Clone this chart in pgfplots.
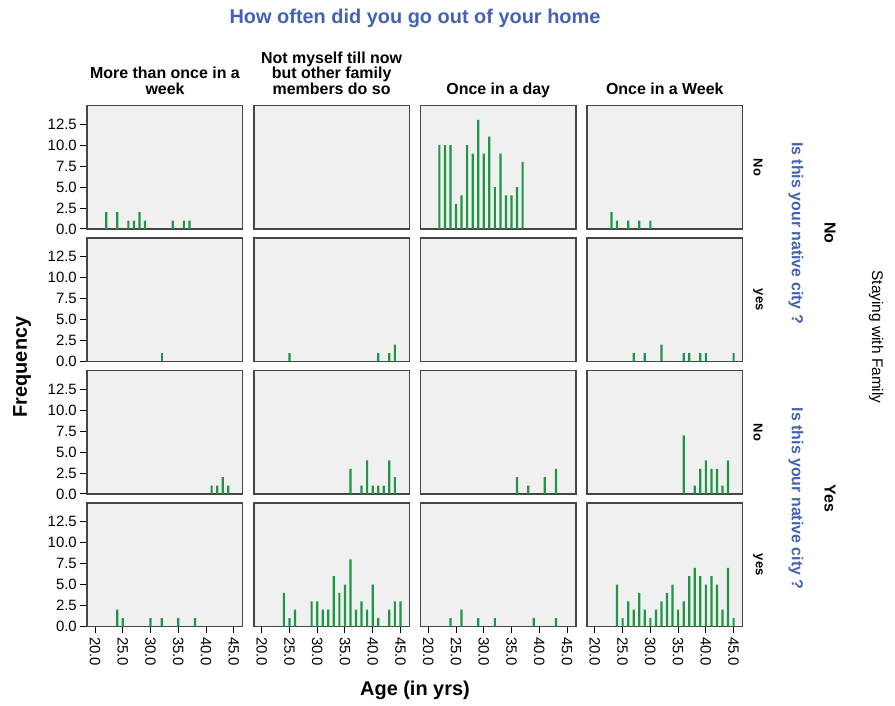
\documentclass[border=0pt]{standalone}
\usepackage{pgfplots}
\pgfplotsset{compat=1.18}
\usepackage{fontspec}
\setmainfont{Liberation Sans}
\definecolor{bargreen}{RGB}{30,150,70}
\definecolor{titleblue}{RGB}{68,98,180}
\definecolor{panelgray}{RGB}{240,240,240}
\definecolor{framegray}{RGB}{70,70,70}
\pgfplotsset{
 panel/.style={
  width=155.4bp, height=123.3bp, scale only axis,
  anchor=south west,
  xmin=18.6, xmax=46.6, ymin=0, ymax=14.7,
  axis background/.style={fill=panelgray},
  axis line style={draw=framegray, line width=1.6bp},
  tick align=outside, major tick length=7bp,
  tick style={draw=black, line width=1bp},
  xtick pos=bottom, ytick pos=left,
  xtick=\empty, ytick=\empty,
  ybar, bar width=2.2bp,
  /pgf/number format/assume math mode=true,
  ticklabel style={font=\fontsize{15}{15}\selectfont},
 },
 leftcol/.style={ytick={0,2.5,...,12.5},
  yticklabel style={/pgf/number format/fixed, /pgf/number format/fixed zerofill, /pgf/number format/precision=1}},
 bottomrow/.style={xtick={20,25,...,45},
  xticklabel style={rotate=-90, anchor=west, /pgf/number format/fixed, /pgf/number format/fixed zerofill, /pgf/number format/precision=1}},
 bars/.style={draw=none, fill=bargreen},
}
\begin{document}
\begin{tikzpicture}
\path[use as bounding box] (0bp,0bp) rectangle (895bp,706bp);
% ---------- row 1 ----------
\begin{axis}[panel, leftcol, at={(87.3bp,477bp)}]
\addplot[bars] coordinates {(22,2)(24,2)(26,1)(27,1)(28,2)(29,1)(34,1)(36,1)(37,1)};
\end{axis}
\begin{axis}[panel, at={(253.9bp,477bp)}]
\end{axis}
\begin{axis}[panel, at={(420.5bp,477bp)}]
\addplot[bars] coordinates {(22,10)(23,10)(24,10)(25,3)(26,4)(27,10)(28,9)(29,13)(30,9)(31,11)(32,5)(33,9)(34,4)(35,4)(36,5)(37,8)};
\end{axis}
\begin{axis}[panel, at={(587.1bp,477bp)}]
\addplot[bars] coordinates {(23,2)(24,1)(26,1)(28,1)(30,1)};
\end{axis}
% ---------- row 2 ----------
\begin{axis}[panel, leftcol, at={(87.3bp,344.5bp)}]
\addplot[bars] coordinates {(32,1)};
\end{axis}
\begin{axis}[panel, at={(253.9bp,344.5bp)}]
\addplot[bars] coordinates {(25,1)(41,1)(43,1)(44,2)};
\end{axis}
\begin{axis}[panel, at={(420.5bp,344.5bp)}]
\end{axis}
\begin{axis}[panel, at={(587.1bp,344.5bp)}]
\addplot[bars] coordinates {(27,1)(29,1)(32,2)(36,1)(37,1)(39,1)(40,1)(45,1)};
\end{axis}
% ---------- row 3 ----------
\begin{axis}[panel, leftcol, at={(87.3bp,212bp)}]
\addplot[bars] coordinates {(41,1)(42,1)(43,2)(44,1)};
\end{axis}
\begin{axis}[panel, at={(253.9bp,212bp)}]
\addplot[bars] coordinates {(36,3)(38,1)(39,4)(40,1)(41,1)(42,1)(43,4)(44,2)};
\end{axis}
\begin{axis}[panel, at={(420.5bp,212bp)}]
\addplot[bars] coordinates {(36,2)(38,1)(41,2)(43,3)};
\end{axis}
\begin{axis}[panel, at={(587.1bp,212bp)}]
\addplot[bars] coordinates {(36,7)(38,1)(39,3)(40,4)(41,3)(42,3)(43,1)(44,4)};
\end{axis}
% ---------- row 4 ----------
\begin{axis}[panel, leftcol, bottomrow, at={(87.3bp,79.5bp)}]
\addplot[bars] coordinates {(24,2)(25,1)(30,1)(32,1)(35,1)(38,1)};
\end{axis}
\begin{axis}[panel, bottomrow, at={(253.9bp,79.5bp)}]
\addplot[bars] coordinates {(24,4)(25,1)(26,2)(29,3)(30,3)(31,2)(32,2)(33,6)(34,4)(35,5)(36,8)(37,2)(38,3)(39,2)(40,5)(41,1)(43,2)(44,3)(45,3)};
\end{axis}
\begin{axis}[panel, bottomrow, at={(420.5bp,79.5bp)}]
\addplot[bars] coordinates {(24,1)(26,2)(29,1)(32,1)(39,1)(43,1)};
\end{axis}
\begin{axis}[panel, bottomrow, at={(587.1bp,79.5bp)}]
\addplot[bars] coordinates {(24,5)(25,1)(26,3)(27,2)(28,4)(29,2)(30,1)(31,2)(32,3)(33,4)(34,5)(35,2)(36,3)(37,6)(38,7)(39,6)(40,5)(41,6)(42,5)(43,2)(44,7)(45,1)};
\end{axis}
% ---------- texts ----------
\node[font=\bfseries\fontsize{20}{20}\selectfont, text=titleblue] at (415bp,688bp) {How often did you go out of your home};
\begin{scope}[every node/.style={font=\bfseries\fontsize{16}{16}\selectfont, align=center, anchor=south, inner sep=0pt}]
\node at (165bp,607.6bp) {More than once in a\\week\vphantom{y}};
\node at (331.6bp,607.6bp) {Not myself till now\\but other family\\members do so\vphantom{y}};
\node at (498.2bp,607.6bp) {Once in a day\vphantom{y}};
\node at (664.8bp,607.6bp) {Once in a Week\vphantom{y}};
\end{scope}
\begin{scope}[every node/.style={font=\bfseries\fontsize{13}{13}\selectfont, rotate=-90}]
\node at (758bp,538.7bp) {No};
\node at (758bp,406.2bp) {yes};
\node at (758bp,273.7bp) {No};
\node at (758bp,141.2bp) {yes};
\end{scope}
\begin{scope}[every node/.style={font=\bfseries\fontsize{16}{16}\selectfont, rotate=-90, text=titleblue}]
\node at (796bp,473bp) {Is this your native city ?};
\node at (796bp,207.3bp) {Is this your native city ?};
\end{scope}
\begin{scope}[every node/.style={font=\bfseries\fontsize{16}{16}\selectfont, rotate=-90}]
\node at (830bp,473bp) {No};
\node at (830bp,207.3bp) {Yes};
\end{scope}
\node[font=\fontsize{15.5}{16}\selectfont, rotate=-90] at (876bp,369bp) {Staying with Family};
\node[font=\bfseries\fontsize{20}{20}\selectfont, rotate=90] at (22bp,339bp) {Frequency};
\node[font=\bfseries\fontsize{20}{20}\selectfont] at (415bp,16bp) {Age (in yrs)};
\end{tikzpicture}
\end{document}
